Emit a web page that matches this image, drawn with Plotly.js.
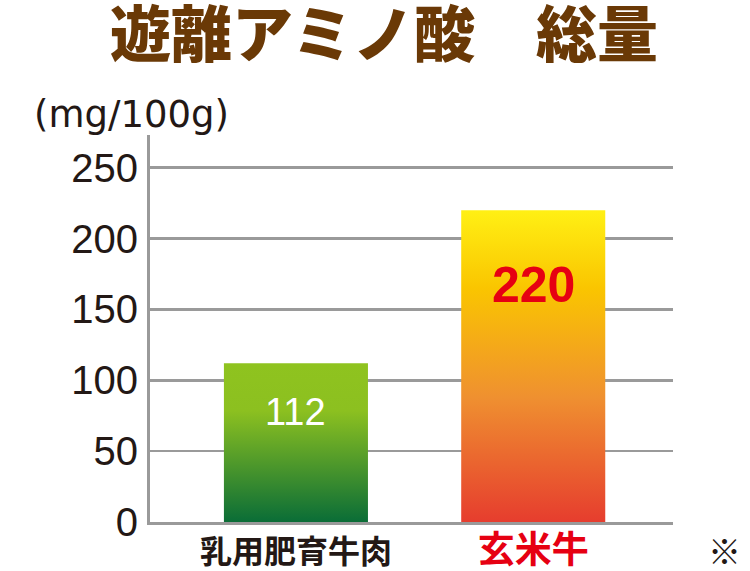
<!DOCTYPE html>
<html>
<head>
<meta charset="utf-8">
<script src="https://cdn.plot.ly/plotly-3.0.1.min.js"></script>
<style>
  html, body { margin: 0; padding: 0; background: #ffffff; }
  #chart { width: 750px; height: 571px; }
</style>
</head>
<body>
<div id="chart"></div>
<script>
// ---- data ----
const categories = ['乳用肥育牛肉', '玄米牛'];
const values = [112, 220];
const valueLabels = ['112', '220'];
const tickLabels = ['乳用肥育牛肉', '<span style="color:#e60012;font-size:37px">玄米牛</span>'];
const yTicks = [0, 50, 100, 150, 200, 250];
const chartTitle = '遊離アミノ酸　総量';
const unitLabel = '(mg/100g)';
const noteMark = '※';

// ---- styles ----
const gradients = [
  [[0, '#8fc31f'], [0.3, '#8cc020'], [1, '#0a6d37']],
  [[0, '#fff014'], [0.25, '#fac500'], [0.6, '#ef9030'], [1, '#e63d2e']]
];
const labelStyles = [
  {color: '#ffffff', size: 38, family: 'Liberation Sans, Arial, sans-serif', bold: false, shift: -49},
  {color: '#e60012', size: 50, family: 'Liberation Sans, Arial, sans-serif', bold: true, shift: -75}
];

const trace = {
  type: 'bar',
  x: categories,
  y: values,
  width: 0.607,
  marker: {color: ['#8fc31f', '#f5b000'], line: {width: 0}},
  hoverinfo: 'skip'
};

const annotations = values.map((v, i) => ({
  x: categories[i], y: v, xref: 'x', yref: 'y',
  text: labelStyles[i].bold ? '<b>' + valueLabels[i] + '</b>' : valueLabels[i],
  showarrow: false, yanchor: 'middle', xanchor: 'center',
  yshift: labelStyles[i].shift,
  font: {color: labelStyles[i].color, size: labelStyles[i].size, family: labelStyles[i].family}
}));
annotations.push({
  xref: 'paper', yref: 'paper', x: -0.226, y: 1.052, xanchor: 'left', yanchor: 'middle',
  text: unitLabel, showarrow: false,
  font: {family: 'DejaVu Sans, sans-serif', size: 37, color: '#231815'}
});
annotations.push({
  xref: 'paper', yref: 'paper', x: 1.098, y: -0.072, xanchor: 'center', yanchor: 'middle',
  text: noteMark, showarrow: false,
  font: {family: 'Noto Sans CJK JP, sans-serif', size: 33, color: '#231815'}
});

const layout = {
  width: 750, height: 571,
  margin: {l: 150, r: 77, t: 135, b: 49},
  paper_bgcolor: '#ffffff', plot_bgcolor: '#ffffff',
  showlegend: false,
  title: {
    text: chartTitle,
    x: 0.512, xanchor: 'center', y: 0.937, yanchor: 'middle',
    font: {family: 'Noto Sans CJK JP, sans-serif', size: 61, color: '#6a3906', weight: 900}
  },
  xaxis: {
    type: 'category',
    range: [-0.615, 1.589],
    tickvals: categories,
    ticktext: tickLabels,
    showgrid: false,
    showline: true, linecolor: '#9a9a9a', linewidth: 3,
    ticks: '',
    ticklabelstandoff: 0,
    tickfont: {family: 'Noto Sans CJK JP, sans-serif', size: 32, color: '#231815', weight: 'bold'},
    fixedrange: true
  },
  yaxis: {
    range: [0, 273.1],
    tickvals: yTicks,
    showgrid: true, gridcolor: '#9a9a9a', gridwidth: 2.5,
    zeroline: false,
    showline: true, linecolor: '#9a9a9a', linewidth: 3,
    ticks: '',
    ticklabelstandoff: 1,
    tickfont: {family: 'Liberation Sans, Arial, sans-serif', size: 40, color: '#231815'},
    fixedrange: true
  },
  annotations: annotations,
  font: {family: 'Noto Sans CJK JP, sans-serif'}
};

function applyGradients(gd) {
  const svg = gd.querySelector('svg.main-svg');
  let defs = svg.querySelector('defs');
  if (!defs) {
    defs = document.createElementNS('http://www.w3.org/2000/svg', 'defs');
    svg.insertBefore(defs, svg.firstChild);
  }
  const paths = gd.querySelectorAll('.barlayer .point path');
  paths.forEach((p, i) => {
    const id = 'bargrad' + i;
    const lg = document.createElementNS('http://www.w3.org/2000/svg', 'linearGradient');
    lg.setAttribute('id', id);
    lg.setAttribute('x1', '0'); lg.setAttribute('y1', '0');
    lg.setAttribute('x2', '0'); lg.setAttribute('y2', '1');
    gradients[i % gradients.length].forEach(([off, col]) => {
      const st = document.createElementNS('http://www.w3.org/2000/svg', 'stop');
      st.setAttribute('offset', off);
      st.setAttribute('stop-color', col);
      lg.appendChild(st);
    });
    defs.appendChild(lg);
    p.style.fill = 'url(#' + id + ')';
  });
}

Plotly.newPlot('chart', [trace], layout, {staticPlot: true, displayModeBar: false})
  .then(applyGradients);
</script>
</body>
</html>
